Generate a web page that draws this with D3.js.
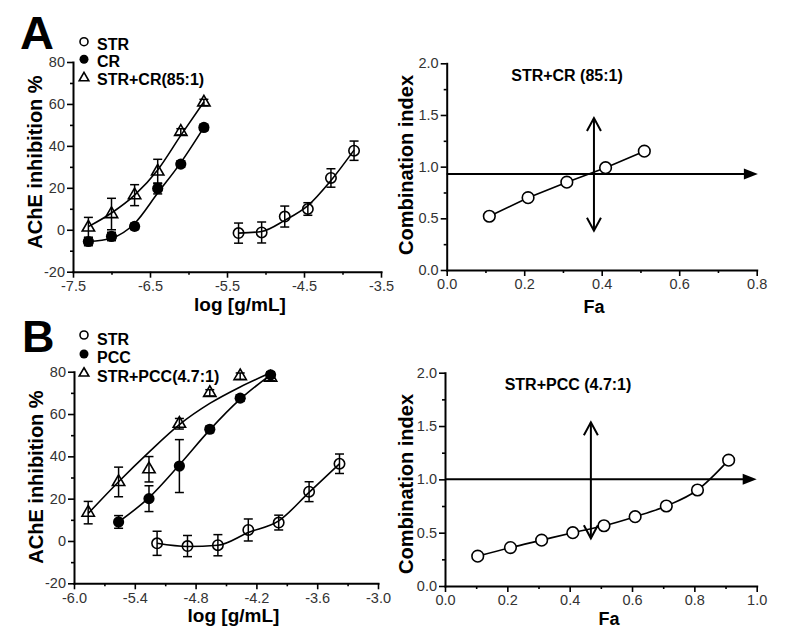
<!DOCTYPE html>
<html><head><meta charset="utf-8">
<script src="https://cdn.jsdelivr.net/npm/d3@7"></script>
<style>body{margin:0;background:#fff}</style>
</head><body><svg id="c" width="785" height="637"></svg>
<script>
// ---------------- DATA ----------------
// Panel A, dose-response (x = log [g/mL], y = AChE inhibition %)
const aXTicks = [-7.5, -6.5, -5.5, -4.5, -3.5];
const aXMinor = [-7.0, -6.0, -5.0, -4.0];
const aStrX   = [-5.35, -5.05, -4.75, -4.45, -4.15, -3.85];
const aStrY   = [-1.6, -1.3, 6.3, 9.9, 24.7, 37.7];
const aStrErr = [4.8, 5.0, 5.0, 3.0, 4.4, 4.6];
const aStrFit = [-1.6, -0.8, 4.5, 11.5, 23.5, 38.0];
const aCrX    = [-7.3, -7.0, -6.7, -6.4, -6.1, -5.8];
const aCrY    = [-5.6, -3.2, 1.6, 19.7, 31.3, 48.8];
const aCrErr  = [2.0, 2.0, 1.5, 2.6, 1.5, 1.5];
const aCrFit  = [-5.6, -4.0, 3.0, 17.5, 32.0, 48.8];
const aMixX   = [-7.3, -7.0, -6.7, -6.4, -6.1, -5.8];
const aMixY   = [1.1, 7.5, 16.5, 27.8, 46.7, 60.7];
const aMixErr = [4.8, 7.5, 5.0, 5.8, 1.5, 1.5];
const aMixFit = [1.5, 8.0, 16.5, 28.5, 45.0, 61.0];
const aLegend = ["STR", "CR", "STR+CR(85:1)"];

// Panel B, dose-response
const bXTicks = [-6.0, -5.4, -4.8, -4.2, -3.6, -3.0];
const bXMinor = [-5.7, -5.1, -4.5, -3.9, -3.3];
const bStrX   = [-5.18, -4.88, -4.58, -4.28, -3.98, -3.68, -3.38];
const bStrY   = [-1.1, -2.4, -2.0, 5.2, 8.7, 23.3, 36.5];
const bStrErr = [5.7, 5.0, 5.0, 5.2, 3.5, 4.7, 4.6];
const bStrFit = [-1.1, -2.6, -2.0, 4.0, 9.5, 23.0, 36.5];
const bPccX   = [-5.56, -5.26, -4.96, -4.66, -4.36, -4.06];
const bPccY   = [9.0, 20.0, 35.4, 52.8, 67.5, 78.5];
const bPccErr = [3.0, 6.1, 12.5, 1.5, 1.5, 1.5];
const bPccFit = [9.0, 20.5, 36.0, 52.5, 67.0, 78.5];
const bMixX   = [-5.86, -5.56, -5.26, -4.96, -4.66, -4.36, -4.06];
const bMixY   = [13.4, 27.9, 33.9, 55.4, 70.0, 77.9, 77.2];
const bMixErr = [5.3, 7.0, 6.0, 2.5, 1.5, 1.5, 1.5];
const bMixFit = [13.0, 28.0, 42.0, 55.0, 65.0, 72.8, 79.5];
const bLegend = ["STR", "PCC", "STR+PCC(4.7:1)"];

const doseYTicks = [-20, 0, 20, 40, 60, 80];
const doseYMinor = [-10, 10, 30, 50, 70];

// Combination index panels
const ciYTicks = [0, 0.5, 1.0, 1.5, 2.0];
const ciYMinor = [0.25, 0.75, 1.25, 1.75];
const aFaTicks = [0, 0.2, 0.4, 0.6, 0.8];
const aFaMinor = [0.1, 0.3, 0.5, 0.7];
const aFa = [0.11, 0.21, 0.31, 0.41, 0.51];
const aCI = [0.52, 0.70, 0.85, 0.99, 1.15];
const aArrowH = [0.93, 0.803];       // CI level, Fa tip
const aArrowV = [0.38, 0.38, 1.47];  // Fa, CI bottom, CI top
const aTitle = "STR+CR (85:1)";

const bFaTicks = [0, 0.2, 0.4, 0.6, 0.8, 1.0];
const bFaMinor = [0.1, 0.3, 0.5, 0.7, 0.9];
const bFa = [0.105, 0.21, 0.31, 0.41, 0.51, 0.61, 0.71, 0.81, 0.91];
const bCI = [0.28, 0.36, 0.43, 0.50, 0.565, 0.65, 0.75, 0.90, 1.18];
const bArrowH = [1.0, 1.0];
const bArrowV = [0.468, 0.447, 1.535];
const bTitle = "STR+PCC (4.7:1)";

// ---------------- DRAWING ----------------
const FONT = '"Liberation Sans", Arial, Helvetica, sans-serif';
const svg = d3.select('#c');
svg.append('rect').attr('width', 785).attr('height', 637).attr('fill', '#fff');

function styleAxis(g) {
  g.attr('font-family', FONT).attr('font-size', 14.5);
  g.select('.domain').attr('stroke', '#000').attr('stroke-width', 2).attr('stroke-linecap', 'square');
  g.selectAll('.tick line').attr('stroke', '#000').attr('stroke-width', 1.6);
  g.selectAll('.tick text').attr('fill', '#333');
}

function axes(box, x, y, xMaj, xMin, yMaj, yMin, xfmt, yfmt) {
  const gx = svg.append('g').attr('transform', `translate(0,${box.b})`)
    .call(d3.axisBottom(x).tickValues(xMaj).tickFormat(xfmt).tickSize(6).tickPadding(3).tickSizeOuter(0));
  styleAxis(gx);
  const gxm = svg.append('g').attr('transform', `translate(0,${box.b})`)
    .call(d3.axisBottom(x).tickValues(xMin).tickFormat('').tickSize(3).tickSizeOuter(0));
  styleAxis(gxm); gxm.select('.domain').remove();
  const gy = svg.append('g').attr('transform', `translate(${box.l},0)`)
    .call(d3.axisLeft(y).tickValues(yMaj).tickFormat(yfmt).tickSize(6).tickPadding(2).tickSizeOuter(0));
  styleAxis(gy);
  const gym = svg.append('g').attr('transform', `translate(${box.l},0)`)
    .call(d3.axisLeft(y).tickValues(yMin).tickFormat('').tickSize(3).tickSizeOuter(0));
  styleAxis(gym); gym.select('.domain').remove();
}

function marker(g, kind, cx, cy, small) {
  if (kind === 'open') {
    g.append('circle').attr('cx', cx).attr('cy', cy).attr('r', small ? 4 : 5.2)
      .attr('fill', 'none').attr('stroke', '#000').attr('stroke-width', 1.6);
  } else if (kind === 'filled') {
    g.append('circle').attr('cx', cx).attr('cy', cy).attr('r', small ? 4.5 : 5.6).attr('fill', '#000');
  } else {
    g.append('path').attr('d', d3.symbol(d3.symbolTriangle, small ? 40 : 66)())
      .attr('transform', `translate(${cx},${cy})`)
      .attr('fill', 'none').attr('stroke', '#000').attr('stroke-width', 1.6);
  }
}

function text(x, y, s, size, opts = {}) {
  const t = svg.append('text').attr('x', x).attr('y', y).text(s)
    .attr('font-family', FONT).attr('font-size', size)
    .attr('font-weight', opts.bold ? 'bold' : 'normal')
    .attr('text-anchor', opts.anchor || 'start').attr('fill', opts.fill || '#000');
  if (opts.rot) t.attr('x', 0).attr('y', 0).attr('transform', `translate(${x},${y}) rotate(-90)`);
  return t;
}

function dosePanel(p) {
  const x = d3.scaleLinear().domain([p.xTicks[0], p.xTicks[p.xTicks.length - 1]]).range([p.box.l, p.box.r]);
  const y = d3.scaleLinear().domain([-20, 80]).range([p.box.b, p.box.t]);
  axes(p.box, x, y, p.xTicks, p.xMinor, doseYTicks, doseYMinor, d => d.toFixed(1), d => String(d));
  const g = svg.append('g');
  p.series.forEach(s => {
    s.x.forEach((xv, i) => {
      const cx = x(xv), y1 = y(s.y[i] + s.err[i]), y0 = y(s.y[i] - s.err[i]);
      g.append('line').attr('x1', cx).attr('x2', cx).attr('y1', y0).attr('y2', y1).attr('stroke', '#000').attr('stroke-width', 1.5);
      [y0, y1].forEach(yy => g.append('line').attr('x1', cx - 4.5).attr('x2', cx + 4.5).attr('y1', yy).attr('y2', yy)
        .attr('stroke', '#000').attr('stroke-width', 1.5));
    });
    const line = d3.line().x(d => x(d[0])).y(d => y(d[1])).curve(d3.curveMonotoneX);
    g.append('path').attr('d', line(s.x.map((xv, i) => [xv, s.fit[i]])))
      .attr('fill', 'none').attr('stroke', '#000').attr('stroke-width', 1.6);
  });
  p.series.forEach(s => s.x.forEach((xv, i) => marker(g, s.kind, x(xv), y(s.y[i]), false)));
  p.series.forEach((s, i) => {
    marker(g, s.kind, p.leg.mx, p.leg.my[i], true);
    text(p.leg.tx, p.leg.ty[i], p.labels[i], 16, { bold: true });
  });
  text(p.yl[0], p.yl[1], 'AChE inhibition %', 20, { bold: true, anchor: 'middle', rot: true });
  text(p.xl[0], p.xl[1], 'log [g/mL]', 19, { bold: true, anchor: 'middle' });
}

function ciPanel(p) {
  const x = d3.scaleLinear().domain([0, p.faTicks[p.faTicks.length - 1]]).range([p.box.l, p.box.r]);
  const y = d3.scaleLinear().domain([0, 2]).range([p.box.b, p.box.t]);
  axes(p.box, x, y, p.faTicks, p.faMinor, ciYTicks, ciYMinor, d => d.toFixed(1), d => d.toFixed(1));
  const g = svg.append('g');
  const hy = y(p.arrowH[0]), hx = x(p.arrowH[1]);
  g.append('line').attr('x1', x(0)).attr('x2', hx - 8).attr('y1', hy).attr('y2', hy).attr('stroke', '#000').attr('stroke-width', 2);
  g.append('path').attr('d', `M${hx},${hy} L${hx - 14},${hy - 5.5} L${hx - 14},${hy + 5.5} Z`).attr('fill', '#000');
  const vx = x(p.arrowV[0]), vb = y(p.arrowV[1]), vt = y(p.arrowV[2]);
  g.append('line').attr('x1', vx).attr('x2', vx).attr('y1', vt).attr('y2', vb).attr('stroke', '#000').attr('stroke-width', 2);
  g.append('path').attr('d', `M${vx - 7},${vt + 13} L${vx},${vt} L${vx + 7},${vt + 13}`).attr('fill', 'none').attr('stroke', '#000').attr('stroke-width', 2);
  g.append('path').attr('d', `M${vx - 7},${vb - 13} L${vx},${vb} L${vx + 7},${vb - 13}`).attr('fill', 'none').attr('stroke', '#000').attr('stroke-width', 2);
  const line = d3.line().x(d => x(d[0])).y(d => y(d[1])).curve(p.curve);
  g.append('path').attr('d', line(p.fa.map((f, i) => [f, p.ci[i]])))
    .attr('fill', 'none').attr('stroke', '#000').attr('stroke-width', 1.6);
  p.fa.forEach((f, i) => g.append('circle').attr('cx', x(f)).attr('cy', y(p.ci[i])).attr('r', 5.8)
    .attr('fill', '#fff').attr('stroke', '#000').attr('stroke-width', 1.6));
  text(p.title[1], p.title[2], p.title[0], 16, { bold: true, anchor: 'middle' });
  text(p.yl[0], p.yl[1], 'Combination index', 20, { bold: true, anchor: 'middle', rot: true });
  text(p.xl[0], p.xl[1], 'Fa', 18, { bold: true, anchor: 'middle' });
}

// Panel A
text(20, 49, 'A', 47, { bold: true });
dosePanel({
  box: { l: 73, r: 381, t: 62, b: 271.7 },
  xTicks: aXTicks, xMinor: aXMinor,
  series: [
    { kind: 'open', x: aStrX, y: aStrY, err: aStrErr, fit: aStrFit },
    { kind: 'filled', x: aCrX, y: aCrY, err: aCrErr, fit: aCrFit },
    { kind: 'tri', x: aMixX, y: aMixY, err: aMixErr, fit: aMixFit }
  ],
  labels: aLegend,
  leg: { mx: 84, my: [41.7, 59.3, 78], tx: 97, ty: [50, 67, 85] },
  yl: [42, 162], xl: [240, 311]
});
ciPanel({
  box: { l: 446.7, r: 756.7, t: 63.3, b: 270 },
  faTicks: aFaTicks, faMinor: aFaMinor, fa: aFa, ci: aCI,
  arrowH: aArrowH, arrowV: aArrowV, curve: d3.curveLinear,
  title: [aTitle, 567, 80.7], yl: [413, 165], xl: [594, 313]
});

// Panel B
text(22, 352, 'B', 45, { bold: true });
dosePanel({
  box: { l: 74, r: 378, t: 371.7, b: 583.3 },
  xTicks: bXTicks, xMinor: bXMinor,
  series: [
    { kind: 'open', x: bStrX, y: bStrY, err: bStrErr, fit: bStrFit },
    { kind: 'filled', x: bPccX, y: bPccY, err: bPccErr, fit: bPccFit },
    { kind: 'tri', x: bMixX, y: bMixY, err: bMixErr, fit: bMixFit }
  ],
  labels: bLegend,
  leg: { mx: 84, my: [335, 354, 373.3], tx: 97, ty: [345, 363.3, 381.7] },
  yl: [43, 477], xl: [233.5, 622]
});
ciPanel({
  box: { l: 445, r: 756.7, t: 372.7, b: 586 },
  faTicks: bFaTicks, faMinor: bFaMinor, fa: bFa, ci: bCI,
  arrowH: bArrowH, arrowV: bArrowV, curve: d3.curveMonotoneX,
  title: [bTitle, 568, 390], yl: [413, 484], xl: [609, 625]
});
</script></body></html>
